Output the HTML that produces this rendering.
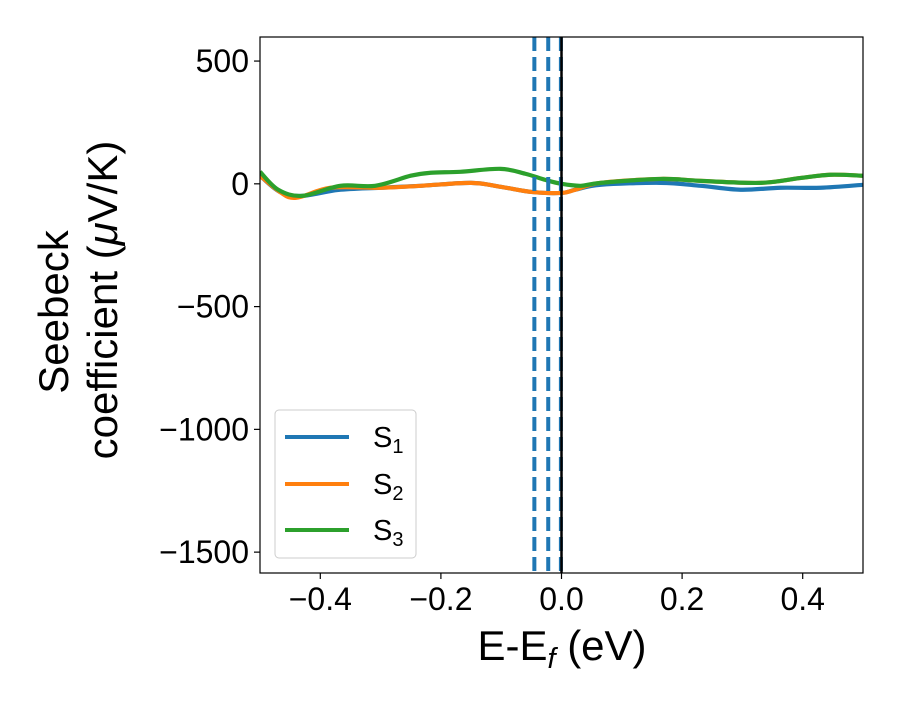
<!DOCTYPE html>
<html><head><meta charset="utf-8"><style>
body{margin:0;background:#fff}
svg text{font-family:"Liberation Sans","DejaVu Sans",sans-serif}
</style></head><body>
<svg id="c" width="900" height="700"></svg>
<script>
const xTicks=[-0.4,-0.2,0.0,0.2,0.4];
const xTickLabels=["−0.4","−0.2","0.0","0.2","0.4"];
const yTicks=[500,0,-500,-1000,-1500];
const yTickLabels=["500","0","−500","−1000","−1500"];
const s1x=[-0.5,-0.467,-0.43,-0.37,-0.3,-0.233,-0.15,-0.101,-0.05,0,0.023,0.065,0.164,0.231,0.297,0.363,0.43,0.5];
const s1y=[33,-33,-49,-25,-16,-8,4,-12,-33,-37,-24,-4,4,-8,-24,-16,-16,-4];
const s2x=[-0.5,-0.467,-0.44,-0.383,-0.3,-0.233,-0.15,-0.101,-0.05,0,0.023,0.065,0.164,0.231,0.33,0.397,0.446,0.5];
const s2y=[33,-33,-57,-16,-16,-8,4,-12,-33,-37,-24,4,20,12,4,24,37,33];
const s3x=[-0.5,-0.47,-0.43,-0.367,-0.309,-0.25,-0.217,-0.168,-0.101,-0.06,-0.027,0,0.032,0.065,0.164,0.231,0.33,0.397,0.446,0.5];
const s3y=[49,-24,-49,-8,-8,33,45,49,61,41,16,0,-8,4,20,12,4,24,37,33];
const vlines=[-0.045,-0.022,-0.001];
const L=260,R=863,T=37,B=573,xmin=-0.5,xmax=0.5,ymin=-1585,ymax=598;
const sx=v=>L+(v-xmin)/(xmax-xmin)*(R-L);
const sy=v=>B-(v-ymin)/(ymax-ymin)*(B-T);
const svg=document.getElementById('c');
const NS='http://www.w3.org/2000/svg';
function mk(t,a,p){const e=document.createElementNS(NS,t);for(const k in a)e.setAttribute(k,a[k]);(p||svg).appendChild(e);return e;}
function path(xs,ys){const p=xs.map((x,i)=>[sx(x),sy(ys[i])]);let d='M'+p[0][0]+','+p[0][1];
for(let i=0;i<p.length-1;i++){const p0=p[i-1]||p[i],p1=p[i],p2=p[i+1],p3=p[i+2]||p2;
d+=' C'+(p1[0]+(p2[0]-p0[0])/6)+','+(p1[1]+(p2[1]-p0[1])/6)+' '+(p2[0]-(p3[0]-p1[0])/6)+','+(p2[1]-(p3[1]-p1[1])/6)+' '+p2[0]+','+p2[1];}return d;}
const clip=mk('clipPath',{id:'cl'});mk('rect',{x:L,y:T,width:R-L,height:B-T},clip);
const g=mk('g',{'clip-path':'url(#cl)'});
const series=[[s1x,s1y,'#1f77b4','series-s1'],[s2x,s2y,'#ff7f0e','series-s2'],[s3x,s3y,'#2ca02c','series-s3']];
series.forEach(s=>{const e=mk('path',{d:path(s[0],s[1]),fill:'none',stroke:s[2],'stroke-width':4.2},g);

});
vlines.forEach((v,i)=>{const e=mk('line',{x1:sx(v),x2:sx(v),y1:T,y2:B,stroke:'#1f77b4','stroke-width':4,'stroke-dasharray':'14,6'},g);

});
const ef=mk('line',{x1:sx(0),x2:sx(0),y1:T,y2:B,stroke:'#000','stroke-width':2.5},g);


const fr=mk('rect',{x:L,y:T,width:R-L,height:B-T,fill:'none',stroke:'#000','stroke-width':1.2});


xTicks.forEach((v,i)=>{mk('line',{x1:sx(v),x2:sx(v),y1:B,y2:B+6,stroke:'#000','stroke-width':1.2});
const t=mk('text',{x:sx(v),y:B+37,'font-size':32,'text-anchor':'middle'});t.textContent=xTickLabels[i];

});
yTicks.forEach((v,i)=>{mk('line',{x1:L-6,x2:L,y1:sy(v),y2:sy(v),stroke:'#000','stroke-width':1.2});
const t=mk('text',{x:L-11,y:sy(v)+11,'font-size':32,'text-anchor':'end'});t.textContent=yTickLabels[i];

});
</script>
<svg width="900" height="700" style="position:absolute;left:0;top:0">
<text x="562" y="660" font-size="42" text-anchor="middle" font-family="Liberation Sans,sans-serif">E-E<tspan font-size="29" dy="8" font-style="italic">f</tspan><tspan dy="-8"> (eV)</tspan></text>
<g font-size="42" font-family="Liberation Sans,sans-serif" text-anchor="middle">
<text transform="translate(68,312) rotate(-90)">Seebeck</text>
<text transform="translate(117,300) rotate(-90)">coefficient  (<tspan font-style="italic">μ</tspan>V/K)</text>
</g>
<g font-family="Liberation Sans,sans-serif" font-size="29">
<rect x="275" y="410" width="141" height="148" rx="4" fill="#fff" fill-opacity="0.8" stroke="#ccc"/>
<g><line x1="285" x2="349" y1="437" y2="437" stroke="#1f77b4" stroke-width="4"/><text x="373" y="447">S<tspan font-size="20" dy="6">1</tspan></text></g>
<g><line x1="285" x2="349" y1="484" y2="484" stroke="#ff7f0e" stroke-width="4"/><text x="373" y="494">S<tspan font-size="20" dy="6">2</tspan></text></g>
<g><line x1="285" x2="349" y1="530" y2="530" stroke="#2ca02c" stroke-width="4"/><text x="373" y="540">S<tspan font-size="20" dy="6">3</tspan></text></g>
</g>
</svg>
</body></html>
